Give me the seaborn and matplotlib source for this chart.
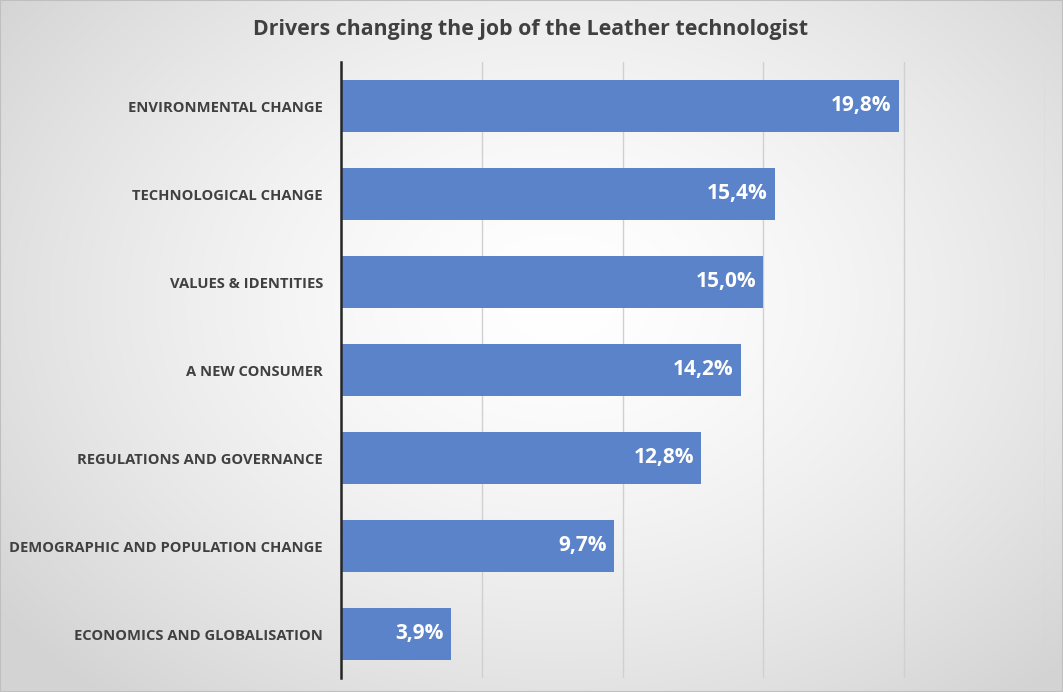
import numpy as np
import pandas as pd
import matplotlib
matplotlib.use("Agg")
import matplotlib.pyplot as plt
import seaborn as sns

categories = ["ENVIRONMENTAL CHANGE", "TECHNOLOGICAL CHANGE", "VALUES & IDENTITIES",
              "A NEW CONSUMER", "REGULATIONS AND GOVERNANCE",
              "DEMOGRAPHIC AND POPULATION CHANGE", "ECONOMICS AND GLOBALISATION"]
values = [19.8, 15.4, 15.0, 14.2, 12.8, 9.7, 3.9]
value_labels = ["19,8%", "15,4%", "15,0%", "14,2%", "12,8%", "9,7%", "3,9%"]
title = "Drivers changing the job of the Leather technologist"

sns.set_theme(style="white")
plt.rcParams['font.family'] = ['Open Sans', 'DejaVu Sans']

fig = plt.figure(figsize=(10.63, 6.92), dpi=100)

# radial gradient background
bg = fig.add_axes([0, 0, 1, 1], zorder=-10)
yy, xx = np.mgrid[0:692, 0:1063]
r = np.sqrt(((xx - 560) / 700.0) ** 2 + ((yy - 300) / 520.0) ** 2)
r = np.clip(r, 0, 1)
val = 1.0 - 0.17 * r ** 1.5
img = np.dstack([val, val, val])
bg.imshow(img, aspect='auto', extent=[0, 1, 0, 1], origin='upper')
bg.axis('off')
bg.plot([0, 1, 1, 0, 0], [1, 1, 0, 0, 1], color="#bfbfbf", lw=1.5, transform=bg.transAxes)

ax = fig.add_axes([341 / 1063, 1 - 678 / 692, (1045 - 341) / 1063, (678 - 62) / 692])
ax.patch.set_alpha(0)
df = pd.DataFrame({"cat": categories, "val": values})
sns.barplot(data=df, x="val", y="cat", orient="h", color="#5B83C9", saturation=1,
            width=0.59, ax=ax, edgecolor="none", linewidth=0)
ax.set_xlim(0, 25)
ax.set_ylim(6.5, -0.5)
ax.set_xticks([0, 5, 10, 15, 20, 25])
ax.xaxis.grid(True, color="#d0d0d0", lw=1)
ax.set_axisbelow(True)
ax.set_xticklabels([])
ax.tick_params(axis='x', length=0)
ax.tick_params(axis='y', length=0, pad=13)
ax.set_xlabel("")
ax.set_ylabel("")
for s in ['top', 'right', 'bottom']:
    ax.spines[s].set_visible(False)
ax.spines['left'].set_color("#262626")
ax.spines['left'].set_linewidth(1.8)
for lbl in ax.get_yticklabels():
    lbl.set_fontsize(10.6)
    lbl.set_fontweight('bold')
    lbl.set_color("#404040")

for i, (v, t) in enumerate(zip(values, value_labels)):
    ax.text(v - 0.25, i, t, ha='right', va='center', color='white',
            fontsize=15, fontweight='bold')

fig.text(531 / 1063, 1 - 30 / 692, title, ha='center', va='center',
         fontsize=15.4, fontweight='bold', color='#404040')

fig.savefig("out.png", dpi=100)
